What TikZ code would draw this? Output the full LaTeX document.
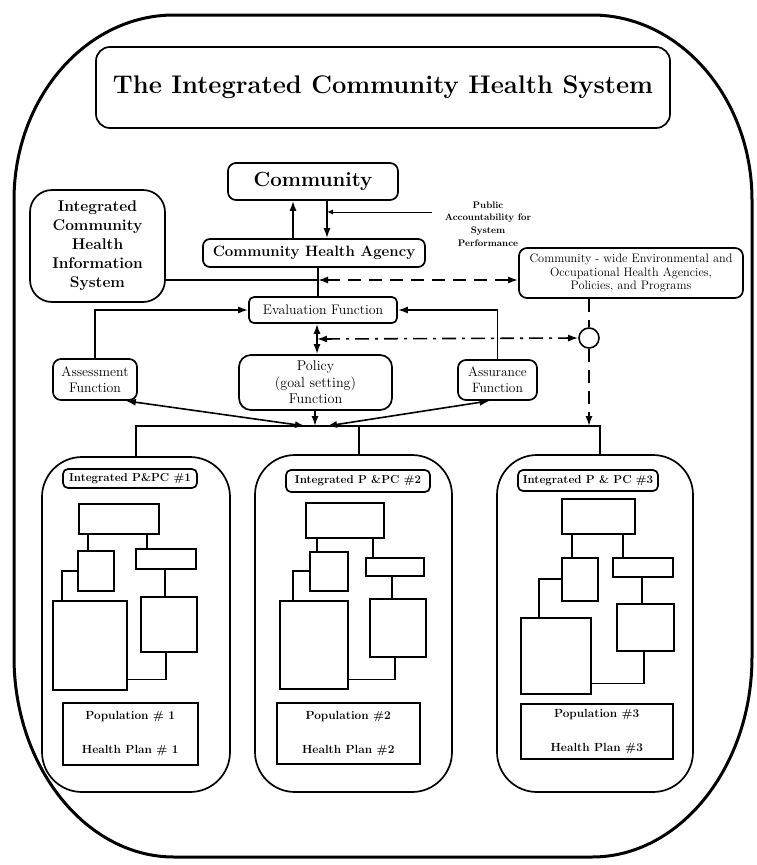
\documentclass[tikz,border=0pt]{standalone}
\usepackage{fontspec}
\usetikzlibrary{arrows.meta,calc}
\newcommand{\fsz}[2]{\fontsize{#1}{#2}\selectfont}
\begin{document}
\begin{tikzpicture}[x=1pt,y=-1pt,
  box/.style={draw,line width=1.7pt,rounded corners=#1,inner sep=0pt,align=center},
  box/.default=6pt,
  sq/.style={draw,line width=1.5pt,inner sep=0pt,anchor=north west},
  ln/.style={line width=1.6pt},
  arr/.style={ln,-{Latex[length=10pt,width=7pt]}},
  arrb/.style={ln,{Latex[length=10pt,width=7pt]}-{Latex[length=10pt,width=7pt]}},
  dsh/.style={dash pattern=on 13pt off 8pt},
  dshdot/.style={dash pattern=on 14pt off 6pt on 3pt off 6pt},
  poptext/.style={font=\bfseries\fsz{11.8}{34},align=center},
]
\useasboundingbox (0,0) rectangle (757,865);

% outer frame
\draw[line width=3pt] (174,15) -- (592,15) .. controls (680,15) and (752,98) .. (752,200) -- (752,657) .. controls (752,767) and (680,857) .. (592,857) -- (174,857) .. controls (86,857) and (14,767) .. (14,657) -- (14,200) .. controls (14,98) and (86,15) .. (174,15) -- cycle;

% main nodes
\node[box=14pt, minimum width=574pt, minimum height=81pt, font=\bfseries\fsz{25.5}{30}] (title) at (383,87.5) {The Integrated Community Health System};
\node[box=8pt, minimum width=170pt, minimum height=37pt, font=\bfseries\fsz{20.5}{24}] (community) at (313,181.5) {Community};
\node[box=22pt, minimum width=135pt, minimum height=112pt, font=\bfseries\fsz{15.5}{19}] (ichis) at (97.5,246) {Integrated\\Community\\Health\\Information\\System};
\node[box=7pt, minimum width=222pt, minimum height=28pt, font=\bfseries\fsz{15}{18}] (cha) at (314,253) {Community Health Agency};
\node[box=5pt, minimum width=148pt, minimum height=26pt, font=\fsz{13.8}{16}] (eval) at (323,310) {Evaluation Function};
\node[box=8pt, minimum width=84pt, minimum height=41pt, font=\fsz{13.8}{16}] (assess) at (95,379.5) {Assessment\\Function};
\node[box=12pt, minimum width=153pt, minimum height=55pt, font=\fsz{14.2}{16.5}] (policy) at (315.5,382.5) {Policy\\(goal setting)\\Function};
\node[box=8pt, minimum width=79pt, minimum height=40pt, font=\fsz{13.5}{16}] (assur) at (497.5,380) {Assurance\\Function};
\node[box=8pt, minimum width=224pt, minimum height=50pt, font=\fsz{12.3}{13.5}] (env) at (631,273) {Community - wide Environmental and\\Occupational Health Agencies,\\Policies, and Programs};
\node[draw, circle, line width=1.6pt, minimum size=20pt, inner sep=0pt] (circ) at (589,338) {};
\node[font=\bfseries\fsz{9.5}{12.7}, align=center, inner sep=0pt] (pub) at (488,224) {Public\\Accountability for\\System\\Performance};

% community <-> agency
\coordinate (upx) at (293,200);
\coordinate (dnx) at (327,200);
\coordinate (pubend) at (432,212);
\draw[arr] (upx |- cha.north) -- (upx |- community.south);
\draw[arr] (dnx |- community.south) -- (dnx |- cha.north);
\draw[line width=1pt,-{Latex[length=6pt,width=5pt]}] (pubend) -- (pubend -| dnx);

% agency -> evaluation, information system, environment
\coordinate (j1) at (318,280);
\draw[ln] (cha.south -| j1) -- (eval.north -| j1);
\draw[ln] (ichis.east |- j1) -- (j1);
\draw[arrb, dsh] (j1) -- (j1 -| env.west);

% evaluation <-> policy, dash-dot to circle
\coordinate (j2) at (317,339);
\draw[arrb] (eval.south -| j2) -- (policy.north -| j2);
\draw[arrb, dshdot] (j2) -- (circ.west);
\draw[ln, dsh] (env.south -| circ) -- (circ.north);

% assessment / assurance -> evaluation
\draw[arr] (assess.north) |- (eval.west);
\draw[arr] (assur.north) |- (eval.east);

% P&PC boxes
\node[box=40pt, minimum width=188pt, minimum height=335pt] (p1) at (136,624.5) {};
\node[box=40pt, minimum width=197pt, minimum height=337pt] (p2) at (353.5,623.5) {};
\node[box=40pt, minimum width=196pt, minimum height=337pt] (p3) at (595,623.5) {};

% bus
\coordinate (bus1) at (136,426);
\coordinate (bus2) at (359,426);
\coordinate (bus3) at (600,426);
\coordinate (bc) at (315,426);
\draw[ln] (p1.north -| bus1) -- (bus1) -- (bus3) -- (p3.north -| bus3);
\draw[ln] (bus2) -- (p2.north -| bus2);
\draw[arr, dsh] (circ.south) -- (circ |- bus1);
\draw[arr] (policy.south -| bc) -- (bc);
\draw[arrb] ([xshift=-12pt]assess.south east) -- ([xshift=-10pt]bc);
\draw[arrb] ([xshift=-8pt]assur.south) -- ([xshift=12pt]bc);

% labels
\node[box=5pt, minimum width=134pt, minimum height=19pt, font=\bfseries\fsz{11.5}{13}] (l1) at (130,478.5) {Integrated P\&PC \#1};
\node[box=5pt, minimum width=144pt, minimum height=22pt, font=\bfseries\fsz{11.5}{13}] (l2) at (358,481) {Integrated P \&PC \#2};
\node[box=5pt, minimum width=140pt, minimum height=21pt, font=\bfseries\fsz{11.5}{13}] (l3) at (588,480.5) {Integrated P \& PC \#3};

% org chart 1
\node[sq, minimum width=80pt, minimum height=30pt] (p1a) at (78,503) {};
\node[sq, minimum width=36pt, minimum height=40pt] (p1b) at (77,550) {};
\node[sq, minimum width=60pt, minimum height=20pt] (p1c) at (135,548) {};
\node[sq, minimum width=74pt, minimum height=89pt] (p1d) at (52,600) {};
\node[sq, minimum width=56pt, minimum height=55pt] (p1e) at (140,596) {};
\node[sq, minimum width=135pt, minimum height=62pt, poptext] (p1p) at (62,702) {Population \# 1\\Health Plan \# 1};
\draw[ln] ([xshift=10pt]p1a.south west) -- ([xshift=11pt]p1b.north west);
\draw[ln] ([xshift=69pt]p1a.south west) -- ([xshift=12pt]p1c.north west);
\draw[ln] (p1b.west) -| ([xshift=10pt]p1d.north west);
\draw[ln] ([xshift=30pt]p1c.south west) -- ([xshift=25pt]p1e.north west);
\draw[ln] ([xshift=26pt]p1e.south west) |- ([yshift=11pt]p1d.south east);

% org chart 2
\node[sq, minimum width=78pt, minimum height=35pt] (p2a) at (305,502) {};
\node[sq, minimum width=38pt, minimum height=39pt] (p2b) at (309,551) {};
\node[sq, minimum width=58pt, minimum height=18pt] (p2c) at (365,557) {};
\node[sq, minimum width=68pt, minimum height=88pt] (p2d) at (279,600) {};
\node[sq, minimum width=56pt, minimum height=58pt] (p2e) at (369,598) {};
\node[sq, minimum width=143pt, minimum height=61pt, poptext] (p2p) at (276,702) {Population \#2\\Health Plan \#2};
\draw[ln] ([xshift=12pt]p2a.south west) -- ([xshift=8pt]p2b.north west);
\draw[ln] ([xshift=68pt]p2a.south west) -- ([xshift=8pt]p2c.north west);
\draw[ln] (p2b.west) -| ([xshift=14pt]p2d.north west);
\draw[ln] ([xshift=27pt]p2c.south west) -- ([xshift=23pt]p2e.north west);
\draw[ln] ([xshift=26pt]p2e.south west) |- ([yshift=10pt]p2d.south east);

% org chart 3
\node[sq, minimum width=73pt, minimum height=35pt] (p3a) at (561,498) {};
\node[sq, minimum width=36pt, minimum height=43pt] (p3b) at (561,557) {};
\node[sq, minimum width=60pt, minimum height=19pt] (p3c) at (612,557) {};
\node[sq, minimum width=70pt, minimum height=76pt] (p3d) at (520,617) {};
\node[sq, minimum width=57pt, minimum height=47pt] (p3e) at (616,603) {};
\node[sq, minimum width=152pt, minimum height=55pt, poptext] (p3p) at (520,703) {Population \#3\\Health Plan \#3};
\draw[ln] ([xshift=11pt]p3a.south west) -- ([xshift=11pt]p3b.north west);
\draw[ln] ([xshift=62pt]p3a.south west) -- ([xshift=11pt]p3c.north west);
\draw[ln] (p3b.west) -| ([xshift=19pt]p3d.north west);
\draw[ln] ([xshift=30pt]p3c.south west) -- ([xshift=26pt]p3e.north west);
\draw[ln] ([xshift=28pt]p3e.south west) |- ([yshift=11pt]p3d.south east);
\end{tikzpicture}
\end{document}
